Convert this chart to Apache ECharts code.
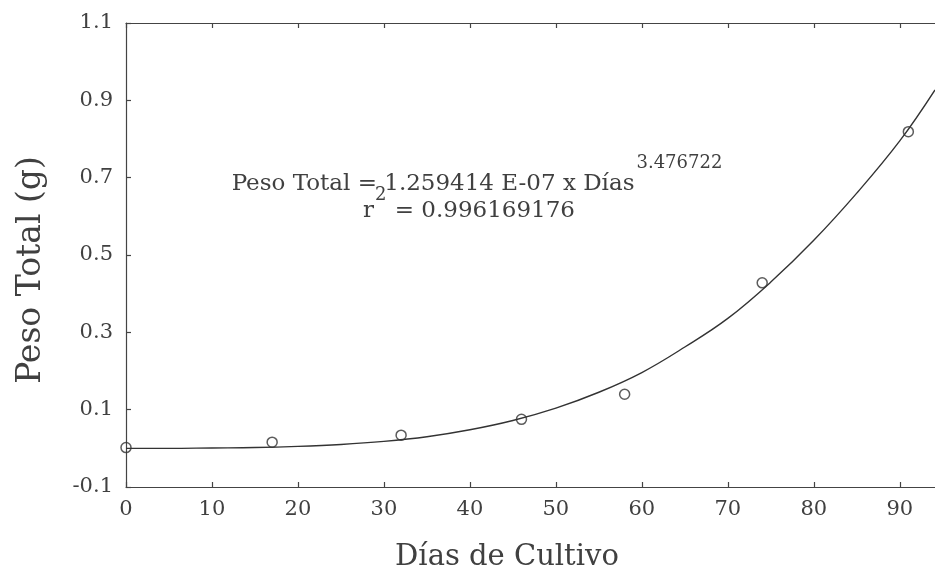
<!DOCTYPE html>
<html>
<head>
<meta charset="utf-8">
<script src="https://cdn.jsdelivr.net/npm/echarts@6/dist/echarts.min.js"></script>
<style>
html,body{margin:0;padding:0;background:#fff;}
#chart{width:935px;height:581px;}
</style>
</head>
<body>
<div id="chart"></div>
<script>
// Observed data points (Días de Cultivo, Peso Total g)
const dias = [0, 17, 32, 46, 58, 74, 91];
const peso = [0.002, 0.016, 0.034, 0.075, 0.140, 0.428, 0.819];
// Fitted curve
const curveX = [0, 5, 10, 15, 20, 25, 30, 35, 40, 45, 50, 55, 60, 65, 70, 75, 80, 85, 90, 94.1];
const curveY = [0.000, 0.000, 0.001, 0.002, 0.005, 0.010, 0.018, 0.030, 0.048, 0.072, 0.104, 0.145, 0.196, 0.262, 0.336, 0.430, 0.538, 0.660, 0.795, 0.927];
// Tick labels
const xTicks = [0, 10, 20, 30, 40, 50, 60, 70, 80, 90];
const yTicks = [-0.1, 0.1, 0.3, 0.5, 0.7, 0.9, 1.1];

const FONT = 'DejaVu Serif';
const INK = '#404040';

// text measuring for the equation annotation
const mctx = document.createElement('canvas').getContext('2d');
function tw(text, size) { mctx.font = size + 'px "' + FONT + '"'; return mctx.measureText(text).width; }

const MAIN = 23, SUP = 18;
const l1a = 'Peso Total = 1.259414 E-07 x Días', l1s = '3.476722';
const l2a = 'r', l2s = '2', l2b = ' = 0.996169176';
const w1a = tw(l1a, MAIN), w1s = tw(l1s, SUP);
const w2a = tw(l2a, MAIN), w2s = tw(l2s, SUP), w2b = tw(l2b, MAIN);
const c1 = 477, c2 = 469;
// baselines -> top positions (glyph baseline sits ~0.77em below the top)
const base1 = 190, sup1 = 168, base2 = 217, sup2 = 200;
const x1 = c1 - (w1a + w1s + 2) / 2;
const x2 = c2 - (w2a + w2s + w2b + 2) / 2;

function txt(x, baseline, text, size) {
  return {type: 'text', x: x, y: baseline - size * 0.775, silent: true,
    style: {text: text, fontFamily: FONT, fontSize: size, fill: INK, align: 'left', verticalAlign: 'top'}};
}

const chart = echarts.init(document.getElementById('chart'), null, {renderer: 'canvas'});

const axisLineStyle = {color: '#444', width: 1.2};

const option = {
  backgroundColor: '#fff',
  animation: false,
  grid: {left: 126, right: 0, top: 23, bottom: 94, containLabel: false},
  xAxis: [{
    type: 'value', min: 0, max: 94.1, position: 'bottom',
    axisLine: {show: true, onZero: false, lineStyle: axisLineStyle},
    axisTick: {show: true, inside: true, length: 5, lineStyle: axisLineStyle, customValues: xTicks},
    axisLabel: {show: true, customValues: xTicks, margin: 12, color: INK, fontFamily: FONT, fontSize: 21,
      formatter: v => String(Math.round(v))},
    splitLine: {show: false}
  }, {
    type: 'value', min: 0, max: 94.1, position: 'top',
    axisLine: {show: true, onZero: false, lineStyle: axisLineStyle},
    axisTick: {show: true, inside: true, length: 5, lineStyle: axisLineStyle, customValues: xTicks},
    axisLabel: {show: false},
    splitLine: {show: false}
  }],
  yAxis: [{
    type: 'value', min: -0.1, max: 1.1, position: 'left',
    axisLine: {show: true, onZero: false, lineStyle: axisLineStyle},
    axisTick: {show: true, inside: true, length: 5, lineStyle: axisLineStyle, customValues: yTicks},
    axisLabel: {show: true, customValues: yTicks, margin: 13, color: INK, fontFamily: FONT, fontSize: 21,
      formatter: v => v.toFixed(1)},
    splitLine: {show: false}
  }],
  graphic: [
    {
      type: 'text', x: 31, y: 270, rotation: Math.PI / 2,
      style: {text: 'Peso Total (g)', fontFamily: FONT, fontSize: 33, fill: INK, align: 'center', verticalAlign: 'middle'}
    },
    {
      type: 'text', x: 507, y: 557,
      style: {text: 'Días de Cultivo', fontFamily: FONT, fontSize: 29, fill: INK, align: 'center', verticalAlign: 'middle'}
    },
    txt(x1, base1, l1a, MAIN),
    txt(x1 + w1a + 2, sup1, l1s, SUP),
    txt(x2, base2, l2a, MAIN),
    txt(x2 + w2a + 1, sup2, l2s, SUP),
    txt(x2 + w2a + w2s + 2, base2, l2b, MAIN)
  ],
  series: [
    {
      type: 'line', name: 'ajuste', xAxisIndex: 0, yAxisIndex: 0,
      data: curveX.map((x, i) => [x, curveY[i]]),
      smooth: 0.4, showSymbol: false, symbol: 'none',
      lineStyle: {color: '#333', width: 1.4}, clip: true, z: 2
    },
    {
      type: 'scatter', name: 'datos', xAxisIndex: 0, yAxisIndex: 0,
      data: dias.map((x, i) => [x, peso[i]]),
      symbol: 'circle', symbolSize: 10,
      itemStyle: {color: 'rgba(255,255,255,0)', borderColor: '#333', borderWidth: 1.5}, z: 3
    }
  ]
};
chart.setOption(option);
</script>
</body>
</html>
